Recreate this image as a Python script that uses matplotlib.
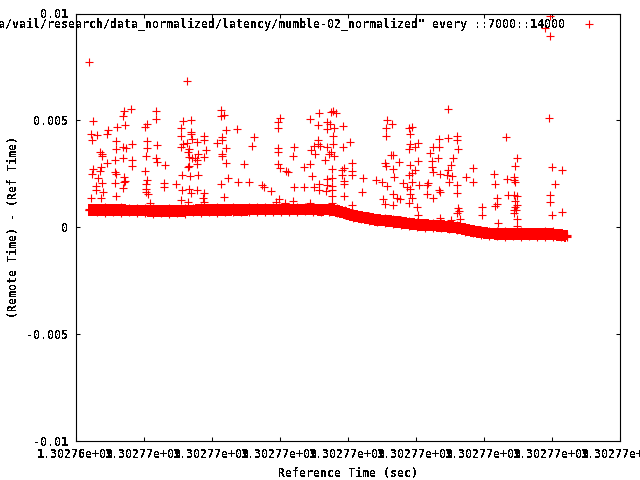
import numpy as np
import matplotlib
matplotlib.use("Agg")
import matplotlib.pyplot as plt
from matplotlib.ticker import FormatStrFormatter, MultipleLocator

KEY_LABEL = 'a/vail/research/data_normalized/latency/mumble-02_normalized" every ::7000::14000'
X_LABEL = "Reference Time (sec)"
Y_LABEL = "(Remote Time) - (Ref Time)"
T0 = 1302764980.0
T_STEP = 68.0

# scattered samples: seconds after T0, offset in milliseconds
scatter_s = [
 55.7,48.7,80.3,47.7,80.3,17.7,107,71.7,69.3,49.7,41.7,32.3,31,15.3,21.7,105.7,105.7,16.3,40.7,71,
 47.7,50,40.3,56.7,81.7,71,24,26.7,26.7,107,105,70.3,39.7,47.7,56.3,80,81,31.7,56.3,89,
 25.7,17.7,16.3,24.7,69.3,39.3,40.7,106.7,22.7,48.7,49.7,71.7,26.3,39.3,48.7,70,88.3,88.3,100.3,20.3,
 47.3,20.3,70.3,70,27,106.3,72.7,40.7,15.3,25.3,105.7,74,
 145.2,145.2,148.8,115.2,204.2,202.8,202.2,150.2,161.8,115.8,115.2,128.8,128.8,146.2,146.2,178.2,116.2,121.2,111.8,141.8,
 176.2,150.2,113.8,112.2,130.2,202.2,202.2,218.2,146.8,146.2,122.2,113.8,128.2,116.2,121.2,119.5,217.8,202.8,150.8,168.2,
 121.2,113.8,112.8,204.2,210.2,212.2,114.5,122.2,152.8,145.2,162.8,173.2,186.8,188.8,195.8,218.2,113.5,121.2,115.5,128.8,
 127.8,148.8,112.8,128.8,203.2,200.2,217.2,209.5,
 243.8,255.2,257.8,260.5,234.8,251.8,311.2,242.8,254.8,316.8,251.8,258.8,267.8,310.8,257.8,310.8,242.8,274.8,242.8,238.8,
 244.5,257.2,235.2,251.2,267.8,239.8,255.5,258.8,253.5,317.8,315.5,249.8,234.2,228.2,276.2,309.8,310.2,323.8,317.8,256.8,
 268.8,266.8,276.8,276.8,266.8,236.2,318.8,287.8,256.8,251.8,300.5,306.2,268.8,268.5,327.8,243.8,228.2,238.8,243.8,251.8,
 256.2,250.5,256.8,311.2,286.2,268.5,256.8,317.8,321.2,324.2,307.8,309.8,317.8,276.2,234.5,256.8,
 372.8,336.8,333.5,334.5,430.2,372.8,381.8,381.8,363.8,342.2,334.5,339.5,333.5,357.8,363.2,382.8,354.8,362.8,377.2,342.8,
 356.8,334.5,356.8,375.8,397.8,339.5,372.8,357.8,364.5,336.2,333.5,371.2,376.2,390.8,418.8,431.8,397.8,373.8,336.2,343.5,
 352.8,351.2,381.8,419.8,331.2,363.8,364.8,334.5,381.8,334.5,351.8,432.8,421.8,357.5,336.8,333.5,421.8,419.5,341.8,406.2,
 382.8,383.5,381.2,406.2,342.8,384.5,364.8,375.2,422.8,
 441.2,439.8,476.8,486.8,438.8,438.8,439.8,479.8,474.8,474.8,438.8,441.8,439.8,441.5,439.8,438.2,440.8,438.8,476.2,486.8,
 441.2,441.2,
 13.8,111.8,474.8,469.5,474.8,473.8,
]
scatter_ms = [
 5.53,5.45,5.43,5.21,5.06,4.95,4.96,4.82,4.67,4.76,4.67,4.53,4.34,4.34,4.29,4.62,4.28,4.09,4.01,4.04,
 3.76,3.71,3.64,3.87,3.82,3.68,3.53,3.42,3.33,3.90,3.76,3.31,3.15,3.22,3.14,3.25,3.03,3.00,2.84,2.89,
 2.81,2.72,2.50,2.62,2.61,2.56,2.47,2.44,2.28,2.33,2.14,2.22,2.06,2.08,2.09,2.00,2.05,1.87,2.01,1.94,
 1.81,1.72,1.80,1.63,1.66,1.72,1.53,1.44,1.34,1.38,1.25,1.11,
 5.48,5.21,5.26,4.99,5.09,4.93,4.62,4.53,4.57,4.43,4.35,4.25,4.09,4.20,4.09,4.20,4.12,3.96,3.92,3.92,
 3.78,3.68,3.64,3.53,3.59,3.68,3.51,3.73,3.42,3.33,3.40,3.29,3.26,3.22,3.14,3.22,3.34,2.95,2.98,2.94,
 2.95,2.87,2.79,2.78,2.62,2.56,2.41,2.44,2.28,2.00,2.09,2.09,1.98,1.87,1.67,1.86,1.77,1.72,1.61,1.58,
 1.38,1.39,1.19,1.16,1.31,1.19,1.22,1.11,
 5.32,5.37,5.45,5.32,5.04,4.93,5.01,4.76,4.81,4.81,4.57,4.62,4.71,4.65,4.25,4.25,4.07,3.96,3.87,3.81,
 3.79,3.89,3.61,3.73,3.73,3.40,3.50,3.34,3.40,3.37,3.36,3.12,2.94,2.79,2.98,2.98,2.84,3.03,2.70,2.70,
 2.75,2.65,2.62,2.44,2.44,2.37,2.33,2.28,2.31,2.25,2.19,2.12,2.16,2.00,2.05,2.01,1.89,1.86,1.75,1.97,
 1.94,1.70,1.73,1.91,1.63,1.47,1.47,1.56,1.34,1.30,1.31,1.08,1.03,1.03,1.11,1.11,
 5.51,4.68,4.62,4.37,4.20,4.15,4.25,4.09,4.11,3.92,3.87,3.76,3.65,3.76,3.76,3.64,3.45,3.22,3.23,3.08,
 3.08,2.89,2.79,2.92,2.75,2.69,2.67,2.56,2.47,2.51,2.42,2.42,2.37,2.33,2.47,2.23,2.09,2.09,2.09,1.95,
 2.05,1.95,1.97,2.00,1.86,1.73,1.66,1.77,1.61,1.55,1.56,1.48,1.34,1.34,1.38,1.11,1.06,0.97,0.94,0.95,
 0.88,0.75,0.64,0.56,0.56,0.38,0.44,0.33,0.17,
 3.22,2.85,2.80,2.66,2.33,2.19,2.10,2.00,1.50,1.18,1.50,1.44,1.21,1.04,0.96,0.79,0.80,0.65,0.55,0.69,
 0.37,0.05,
 7.71,6.82,9.88,9.34,8.93,5.09,
]

# dense clock-offset band: centre and jagged edges
band_s = [13,21,29,37,45,53,61,69,77,85,93,101,109,117,125,133,141,149,157,165,173,181,189,197,205,213,221,229,237,245,
          253,261,269,277,285,293,301,309,317,325,333,341,349,357,365,373,381,389,397,405,413,421,429,437,445,453,461,469,477,485,491]
band_ms = [.80,.80,.79,.80,.79,.78,.78,.77,.75,.74,.74,.75,.76,.78,.79,.80,.80,.80,.81,.80,.81,.82,.82,.82,.83,.82,.83,.83,.83,.80,
           .83,.76,.66,.54,.47,.40,.33,.30,.26,.22,.16,.11,.09,.07,.05,.01,-.03,-.10,-.19,-.25,-.30,-.32,-.33,-.33,-.33,-.33,-.34,-.33,-.34,-.38,-.42]
band_upper_ms = [.82,.90,.93,.90,.92,.88,.91,.87,.88,.84,.87,.85,.89,.88,.92,.90,.93,.90,.94,.90,.93,.92,.95,.92,.96,.92,.96,.93,.96,.91,
                 .96,.88,.78,.66,.58,.53,.44,.43,.37,.34,.28,.22,.21,.18,.17,.11,.08,.02,-.08,-.13,-.19,-.21,-.20,-.23,-.20,-.22,-.22,-.20,-.21,-.28,-.38]
band_lower_ms = [.78,.70,.67,.70,.67,.68,.65,.67,.62,.64,.61,.65,.63,.68,.66,.70,.67,.70,.68,.70,.69,.72,.69,.72,.70,.72,.70,.73,.70,.69,
                 .70,.64,.54,.42,.36,.27,.22,.17,.15,.10,.04,.00,-.03,-.05,-.07,-.09,-.15,-.22,-.30,-.37,-.41,-.44,-.45,-.44,-.45,-.44,-.45,-.45,-.46,-.49,-.46]

plt.rcParams["font.family"] = ["DejaVu Sans Mono"]
plt.rcParams["font.weight"] = "bold"
plt.rcParams["font.size"] = 8.37
plt.rcParams["text.antialiased"] = False
plt.rcParams["lines.antialiased"] = False

fig = plt.figure(figsize=(6.4, 4.8), dpi=100)
ax = fig.add_axes([75.5/640, 39.5/480, 544/640, 427/480])

T = T0 + np.array(band_s, float)
marker = dict(marker="+", ms=5.3, mew=0.8, color="#ff0000", ls="none")
line, = ax.plot(T0 + np.array(scatter_s, float), np.array(scatter_ms)*1e-3, label=KEY_LABEL, **marker)
ax.plot(T, np.array(band_ms)*1e-3, color="#ff0000", lw=7.6, solid_capstyle="butt")
ax.plot(T, np.array(band_upper_ms)*1e-3, **marker)
ax.plot(T, np.array(band_lower_ms)*1e-3, **marker)
ax.plot(T, np.array(band_ms)*1e-3, **marker)

ax.set_xlim(T0, T0 + 8*T_STEP)
ax.set_ylim(-0.01, 0.01)
ax.xaxis.set_major_locator(MultipleLocator(T_STEP, offset=T0 % T_STEP))
ax.yaxis.set_major_locator(MultipleLocator(0.005))
ax.xaxis.set_major_formatter(FormatStrFormatter("%g"))
ax.yaxis.set_major_formatter(FormatStrFormatter("%g"))
ax.tick_params(direction="in", length=3, width=0.75, top=True, right=True, pad=5.5, labelsize=8.37)
ax.xaxis.get_offset_text().set_visible(False)
for s in ax.spines.values():
    s.set_linewidth(0.8)
ax.set_xlabel(X_LABEL, fontsize=8.37, fontweight="bold", labelpad=4.5)
ax.set_ylabel(Y_LABEL, fontsize=8.37, fontweight="bold", labelpad=4)

ax.legend(handles=[line], loc="upper right", frameon=False, markerfirst=False, numpoints=1,
          bbox_to_anchor=(600.6/640, 1-18/480), bbox_transform=fig.transFigure,
          borderpad=0, borderaxespad=0, handlelength=2, handletextpad=1.06,
          prop=dict(family="DejaVu Sans Mono", weight="bold", size=8.37))

fig.savefig("out.png", dpi=100)
